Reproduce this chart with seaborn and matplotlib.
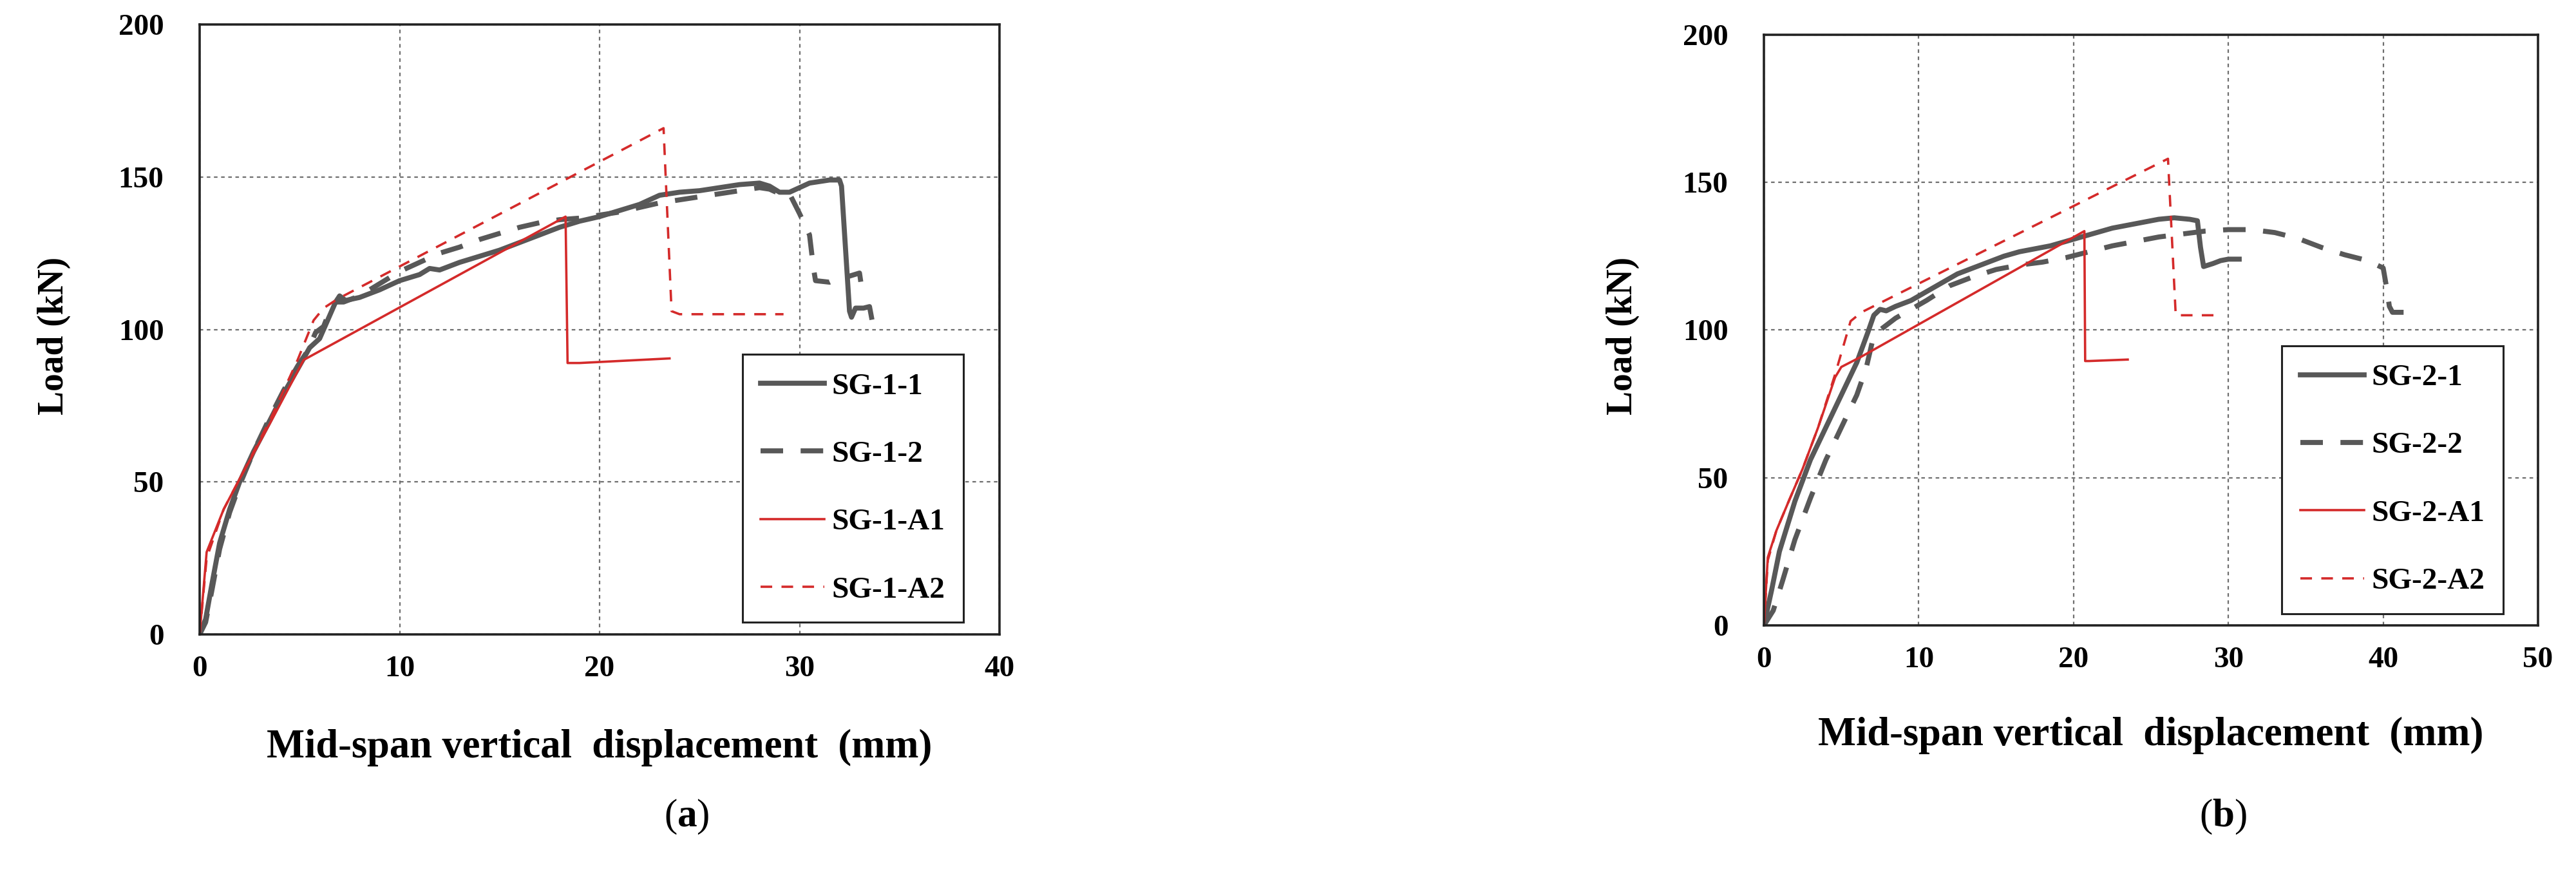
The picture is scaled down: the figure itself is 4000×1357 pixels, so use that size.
import pandas as pd
import seaborn as sns
import matplotlib.pyplot as plt

# ---- panel (a): SG-1 series ----
sg11_x = [0, 0.3, 0.6, 1.0, 1.5, 2.0, 2.7, 3.5, 4.2, 4.9, 5.5, 6.0, 6.4, 6.8, 7.0, 7.3, 8.0, 9.0,
          10.0, 11.0, 11.5, 12.0, 13.0, 14.0, 15.0, 16.0, 17.0, 18.0, 19.0, 20.0, 21.0, 22.0, 23.0,
          24.0, 25.0, 26.0, 27.0, 28.0, 28.5, 29.0, 29.5, 30.0, 30.5, 31.0, 31.5, 32.0, 32.1, 32.5,
          32.6, 32.8, 33.2, 33.5, 33.6]
sg11_y = [0, 5, 16, 30, 41, 50, 60, 70, 79, 87, 94, 97, 103, 109, 111, 109.5, 110.5, 113,
          116, 118, 120, 119.5, 122, 124, 126, 128.5, 131, 133.5, 135.5, 137, 139, 141, 144,
          145, 145.5, 146.5, 147.5, 148, 147, 145, 145, 146.5, 148, 148.5, 149, 149, 147, 106,
          104, 107, 107, 107.5, 104]

sg12_x = [0, 0.3, 0.6, 1.0, 1.5, 2.0, 2.7, 3.5, 4.2, 4.9, 5.4, 5.8, 6.2, 6.5, 6.8, 7.2, 8.0, 9.0,
          10.0, 11.0, 12.0, 13.0, 14.0, 15.0, 16.0, 17.0, 18.0, 19.0, 20.0, 21.0, 22.0, 23.0, 24.0,
          25.0, 26.0, 27.0, 28.0, 28.5, 29.0, 29.5, 30.0, 30.5, 30.7, 30.8, 31.5, 32.0, 32.5, 33.0,
          33.1]
sg12_y = [0, 4, 14, 28, 40, 49, 60, 71, 80, 88, 93, 99, 101, 106, 109, 109, 111, 115,
          119, 122, 125, 127, 129.5, 131.5, 133.5, 135, 136, 136.5, 137.5, 138.5, 140, 141.5, 142.5,
          143.5, 144.5, 145.5, 146.5, 146, 144.5, 144.5, 138, 131, 120, 116, 115.5, 117, 117.5, 118.5,
          114]

sg1a1_x = [0, 0.35, 1.2, 2.0, 3.5, 5.2, 18.3, 18.4, 19.0, 23.5]
sg1a1_y = [0, 27, 41, 51, 69, 90, 137, 89, 89, 90.5]

sg1a2_x = [0, 0.35, 1.2, 2.0, 3.5, 4.9, 5.7, 6.2, 6.9, 23.2, 23.6, 24.0, 29.2]
sg1a2_y = [0, 25, 41, 51, 70, 90, 103, 107, 110, 166, 106, 105, 105]

# ---- panel (b): SG-2 series ----
sg21_x = [0, 0.5, 1.0, 2.0, 3.0, 4.0, 5.0, 6.0, 6.7, 7.1, 7.5, 7.9, 8.5, 9.5, 10.5, 11.5, 12.5,
          13.5, 14.5, 15.5, 16.5, 17.5, 18.5, 19.5, 20.5, 21.5, 22.5, 23.5, 24.5, 25.5, 26.5, 27.5,
          28.0, 28.2, 28.4, 29.0, 29.5, 30.0, 30.7]
sg21_y = [0, 12, 25, 42, 56, 67, 78, 89, 99, 105, 107, 106.5, 108, 110, 113, 116, 119,
          121, 123, 125, 126.5, 127.5, 128.5, 130, 131.5, 133, 134.5, 135.5, 136.5, 137.5, 138, 137.5,
          137, 128, 121.5, 122.5, 123.5, 124, 124]

sg22_x = [0, 0.6, 1.2, 2.0, 3.0, 4.0, 5.0, 6.0, 6.6, 7.0, 7.5, 8.5, 9.5, 10.5, 12.0, 13.5, 15.0,
          16.5, 18.0, 19.5, 21.0, 22.5, 24.0, 25.5, 27.0, 28.5, 30.0, 31.5, 33.0, 34.5, 36.0, 37.5,
          39.0, 40.0, 40.2, 40.4, 40.6, 41.5, 42.3]
sg22_y = [0, 5, 15, 29, 43, 56, 67, 78, 87, 96, 100, 104, 107, 110, 115, 118, 120.5,
          122, 123, 124.5, 126.5, 128.5, 130, 131.5, 132.5, 133.5, 134, 134, 133, 131, 128, 125.5,
          123.5, 121, 115, 108, 106, 106, 105.5]

sg2a1_x = [0, 0.25, 0.8, 1.6, 2.5, 3.5, 4.6, 5.0, 6.3, 20.7, 20.75, 21.0, 23.5]
sg2a1_y = [0, 23, 32, 42, 53, 67, 84, 87.5, 91, 133.5, 89.5, 89.5, 90]

sg2a2_x = [0, 0.25, 0.8, 1.6, 2.5, 3.5, 4.6, 5.6, 6.3, 26.1, 26.6, 27.0, 29.3]
sg2a2_y = [0, 22, 32, 42, 53, 67, 85, 103, 106, 158, 105, 105, 105]

x_ticks_a = [0, 10, 20, 30, 40]
x_ticks_b = [0, 10, 20, 30, 40, 50]
y_ticks = [0, 50, 100, 150, 200]

GRAY = '#585858'
RED = '#d42a2a'
SERIF = 'Liberation Serif'


def draw_panel(ax, series, xticks):
    for (xs, ys, color, lw, ls, name) in series:
        df = pd.DataFrame({'x': xs, 'y': ys})
        sns.lineplot(data=df, x='x', y='y', ax=ax, color=color, lw=lw, linestyle=ls,
                     sort=False, estimator=None, label=name)

    ax.set_xlim(xticks[0], xticks[-1])
    ax.set_ylim(y_ticks[0], y_ticks[-1])
    ax.set_xticks(xticks)
    ax.set_yticks(y_ticks)
    ax.grid(True, color='#6e6e6e', lw=0.8, linestyle=(0, (2.5, 2.5)))
    ax.tick_params(axis='both', length=0, labelsize=17)
    ax.tick_params(axis='x', pad=12)
    ax.tick_params(axis='y', pad=20)
    for lab in ax.get_xticklabels() + ax.get_yticklabels():
        lab.set_fontweight('bold')
    for sp in ax.spines.values():
        sp.set_color('#222222')
        sp.set_linewidth(1.3)

    ax.set_xlabel('')
    ax.set_ylabel('')
    ax.text(0.5, -0.186, 'Mid-span vertical  displacement  (mm)', transform=ax.transAxes,
            ha='center', va='center', fontsize=22.5, fontweight='bold')
    ax.text(-0.182, 0.49, 'Load (kN)', transform=ax.transAxes, rotation=90,
            ha='center', va='center', fontsize=20, fontweight='bold')

    leg = ax.legend(loc='lower right', bbox_to_anchor=(0.955, 0.02), borderaxespad=0,
                    fancybox=False, framealpha=1, edgecolor='#222222',
                    prop={'family': SERIF, 'weight': 'bold', 'size': 17},
                    labelspacing=1.32, borderpad=0.6, handlelength=2.1, handletextpad=0.25)
    leg.get_frame().set_linewidth(1.1)


plt.rcParams['font.family'] = SERIF
plt.rcParams['mathtext.fontset'] = 'custom'
plt.rcParams['mathtext.rm'] = SERIF
plt.rcParams['mathtext.bf'] = SERIF + ':bold'

fig = plt.figure(figsize=(20, 6.785), dpi=200)
ax_a = fig.add_axes([0.0775, 0.2741, 0.3105, 0.6979])
ax_b = fig.add_axes([0.68475, 0.2845, 0.3005, 0.6758])

dash_gray = (0, (4.5, 3.5))
dash_red = (0, (5, 4))

draw_panel(ax_a, [
    (sg11_x, sg11_y, GRAY, 2.8, '-', 'SG-1-1'),
    (sg12_x, sg12_y, GRAY, 2.8, dash_gray, 'SG-1-2'),
    (sg1a1_x, sg1a1_y, RED, 1.3, '-', 'SG-1-A1'),
    (sg1a2_x, sg1a2_y, RED, 1.3, dash_red, 'SG-1-A2'),
], x_ticks_a)

draw_panel(ax_b, [
    (sg21_x, sg21_y, GRAY, 2.8, '-', 'SG-2-1'),
    (sg22_x, sg22_y, GRAY, 2.8, dash_gray, 'SG-2-2'),
    (sg2a1_x, sg2a1_y, RED, 1.3, '-', 'SG-2-A1'),
    (sg2a2_x, sg2a2_y, RED, 1.3, dash_red, 'SG-2-A2'),
], x_ticks_b)

fig.text(0.2665, 0.0656, r'($\mathbf{a}$)', ha='center', va='center', fontsize=22)
fig.text(0.863, 0.0656, r'($\mathbf{b}$)', ha='center', va='center', fontsize=22)

plt.savefig('out.png', dpi=200)
